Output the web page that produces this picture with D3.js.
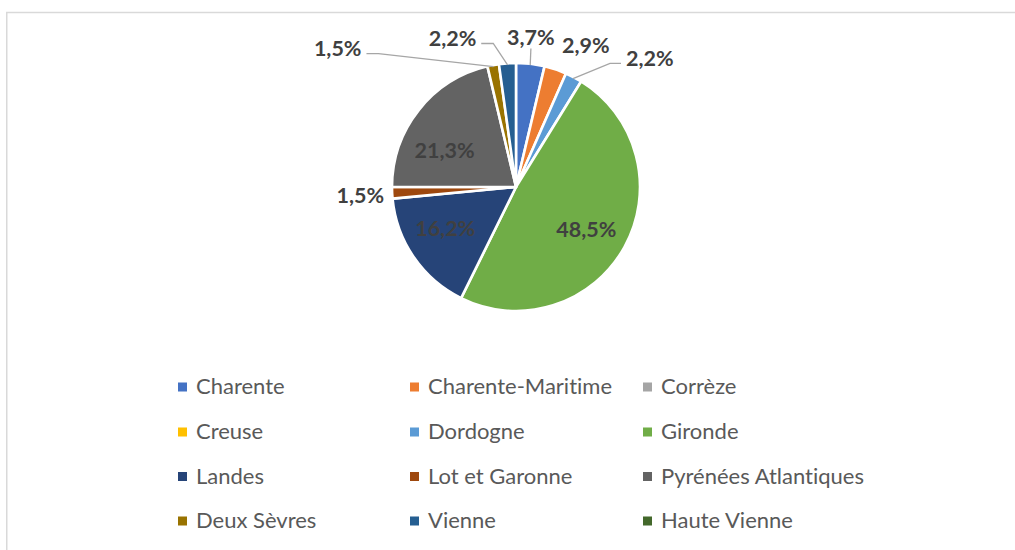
<!DOCTYPE html>
<html><head><meta charset="utf-8">
<script src="https://cdn.jsdelivr.net/npm/d3@7"></script>
<style>
html,body{margin:0;padding:0;background:#fff;}
svg{display:block;}
text{font-variant-ligatures:none;font-feature-settings:"liga" 0,"clig" 0;}
</style></head>
<body>
<svg id="chart" width="1015" height="550"></svg>
<script>
// ---- data ----
const categories = ["Charente","Charente-Maritime","Corrèze","Creuse","Dordogne","Gironde","Landes","Lot et Garonne","Pyrénées Atlantiques","Deux Sèvres","Vienne","Haute Vienne"];
const values = [3.7, 2.9, 0, 0, 2.2, 48.5, 16.2, 1.5, 21.3, 1.5, 2.2, 0];
const colors = ["#4472C4","#ED7D31","#A5A5A5","#FFC000","#5B9BD5","#70AD47","#264478","#9E480E","#636363","#997300","#255E91","#43682B"];
// label placement (polar: angle deg clockwise from top, distance px from centre); leader: side of label the line leaves from
const labelAngle = [5.7, 26.2, null, null, 46.0, 121.0, 239.7, 266.9, 297.4, 307.9, 336.9, null];
const labelDist  = [150, 158, null, null, 186, 82, 82, 156, 80.5, 226, 162, null];
const leaderSide = ["bottom", null, null, null, "left", null, null, null, null, "right", "right", null];

const W = 1015, H = 550;
const cx = 516, cy = 187, R = 124;
const svg = d3.select("#chart");
const font = "Lato, 'Liberation Sans', sans-serif";

// chart border (clipped at the right/bottom)
svg.append("rect").attr("x", 6.75).attr("y", 12.5).attr("width", W + 20).attr("height", H + 20)
  .attr("fill", "none").attr("stroke", "#d9d9d9").attr("stroke-width", 1.5);

const data = categories.map((c, i) => ({name: c, value: values[i], color: colors[i], i}));
const pie = d3.pie().sort(null).value(d => d.value);
const arcs = pie(data);
const arc = d3.arc().innerRadius(0).outerRadius(R);
const edgeArc = d3.arc().innerRadius(R - 1.5).outerRadius(R - 1.5);

const g = svg.append("g").attr("transform", `translate(${cx},${cy})`);
g.selectAll("path.slice").data(arcs.filter(a => a.data.value > 0)).join("path")
  .attr("class", "slice")
  .attr("d", arc)
  .attr("fill", d => d.data.color)
  .attr("stroke", "#fff").attr("stroke-width", 2.6).attr("stroke-linejoin", "round");

const fmt = v => d3.format(".1f")(v).replace(".", ",") + "%";
const rad = a => a * Math.PI / 180;

arcs.forEach((a, i) => {
  if (a.data.value <= 0) return;
  const ang = rad(labelAngle[i]);
  const lx = labelDist[i] * Math.sin(ang);
  const ly = -labelDist[i] * Math.cos(ang);
  const t = g.append("text")
    .attr("x", lx).attr("y", ly)
    .attr("text-anchor", "middle")
    .attr("dy", "0.36em")
    .attr("font-family", font).attr("font-weight", "bold").attr("font-size", 21.5)
    .attr("fill", "#404040")
    .text(fmt(a.data.value));
  const side = leaderSide[i];
  if (side) {
    const bb = t.node().getBBox();
    const [px, py] = edgeArc.centroid(a);
    let pts;
    const midY = ly + 5.5;
    if (side === "bottom") {
      pts = [[lx, bb.y + bb.height - 2], [px, py]];
    } else if (side === "left") {
      const x0 = bb.x - 5;
      pts = [[x0, midY], [x0 - 11, midY], [px, py]];
    } else {
      const x0 = bb.x + bb.width + 5;
      pts = [[x0, midY], [x0 + 12, midY], [px, py]];
    }
    g.insert("path", "text").attr("d", d3.line()(pts))
      .attr("fill", "none").attr("stroke", "#a6a6a6").attr("stroke-width", 1.3);
  }
});

// legend
const colX = [196, 428, 661];
const rowY = [394, 439, 483.5, 528];
const leg = svg.append("g");
data.forEach((d, i) => {
  const x = colX[i % 3], y = rowY[Math.floor(i / 3)];
  leg.append("rect").attr("x", x - 18).attr("y", y - 11.5).attr("width", 9).attr("height", 9).attr("fill", d.color);
  leg.append("text").attr("x", x).attr("y", y)
    .attr("font-family", font).attr("font-size", 22).attr("fill", "#595959")
    .text(d.name);
});
</script>
</body></html>
